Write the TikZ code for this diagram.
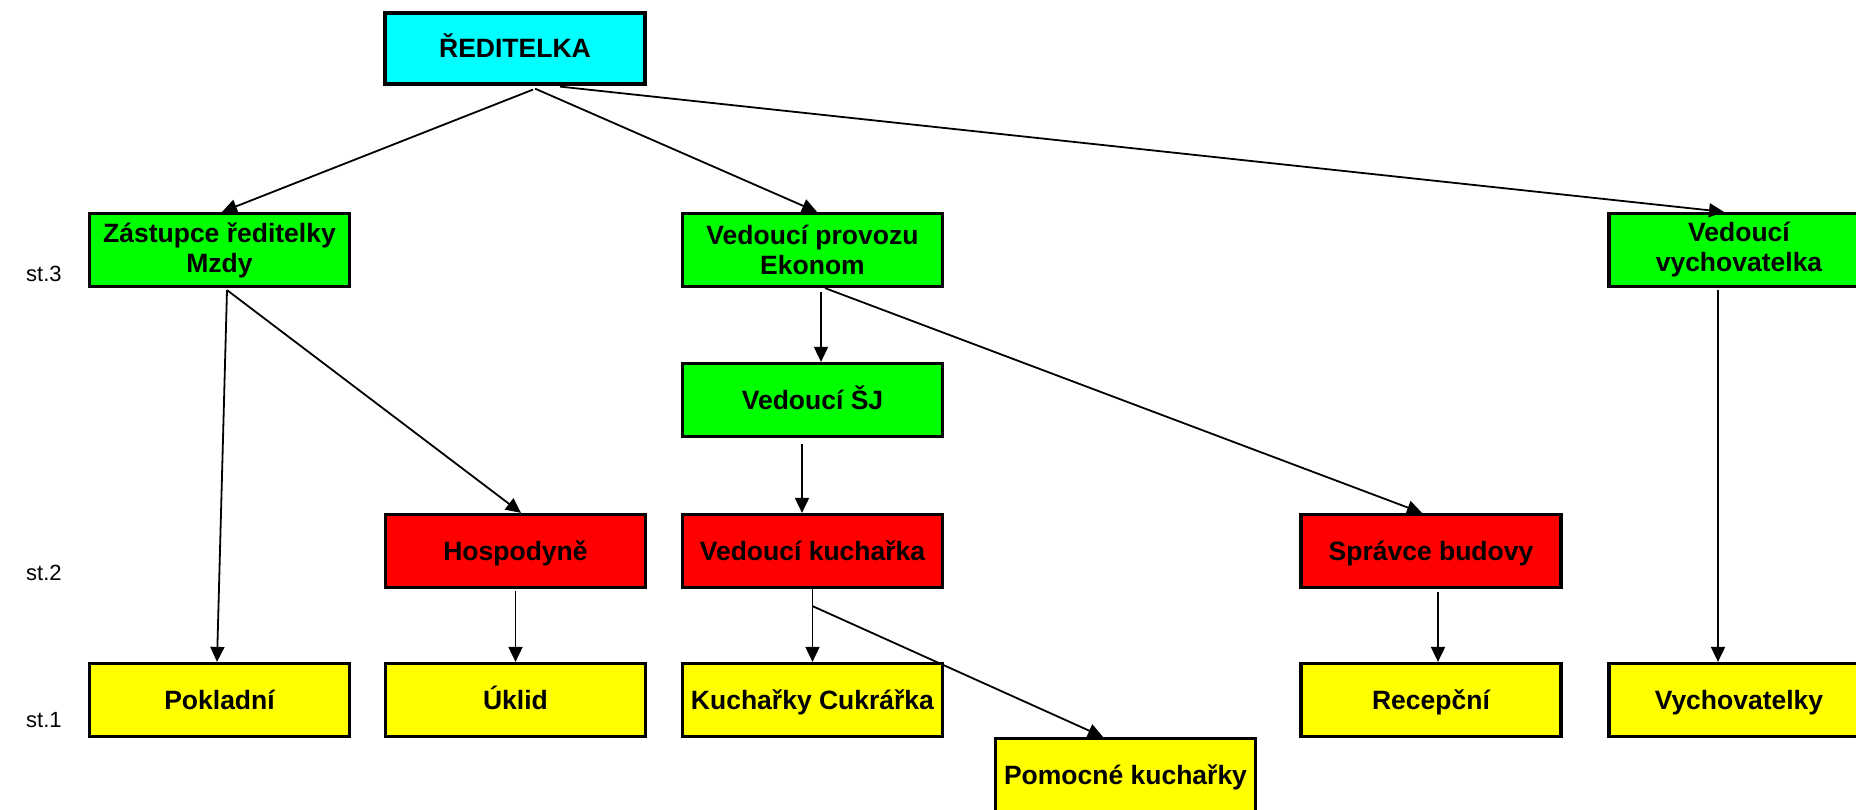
\documentclass[tikz,border=0pt]{standalone}
\usepackage{fontspec}
\setmainfont{Liberation Sans}
\usetikzlibrary{arrows.meta}
\definecolor{cy}{HTML}{00FFFF}
\definecolor{gr}{HTML}{00FF00}
\definecolor{rd}{HTML}{FF0000}
\definecolor{ye}{HTML}{FFFF00}
\newcommand\capc[1]{\smash{#1}\vphantom{A}}
\tikzset{
  box/.style={draw=black, line width=3.2pt, minimum width=260pt, minimum height=73pt,
    inner sep=0pt, align=center, font=\fontsize{26.5}{30}\selectfont\bfseries},
  arr/.style={line width=1.8pt, -{Triangle[length=15pt,width=14pt]}},
  lvl/.style={font=\fontsize{22}{26}\selectfont, anchor=west, inner sep=0pt}
}
\begin{document}
\begin{tikzpicture}[x=1pt,y=-1pt]
\clip (0,0) rectangle (1856,810);
\fill[white] (0,0) rectangle (1856,810);
% nodes
\node[box, fill=cy, minimum height=71pt] (top) at (515,48.5) {\capc{ŘEDITELKA}};
\node[box, fill=gr] (zast) at (219.5,250) {Zástupce ředitelky\\Mzdy};
\node[box, fill=gr] (vprov) at (812.5,250) {Vedoucí provozu\\Ekonom};
\node[box, fill=gr] (vvych) at (1739,250) {Vedoucí\\vychovatelka};
\node[box, fill=gr] (vsj) at (812.5,400) {\capc{Vedoucí ŠJ}};
\node[box, fill=rd] (hosp) at (515.5,551) {\capc{Hospodyně}};
\node[box, fill=rd] (vkuch) at (812.5,551) {\capc{Vedoucí kuchařka}};
\node[box, fill=rd] (sprav) at (1431,551) {\capc{Správce budovy}};
\node[box, fill=ye] (pokl) at (219.5,700) {\capc{Pokladní}};
\node[box, fill=ye] (uklid) at (515.5,700) {\capc{Úklid}};
\node[box, fill=ye] (kuch) at (812.5,700) {\capc{Kuchařky Cukrářka}};
\node[box, fill=ye] (recep) at (1431,700) {\capc{Recepční}};
\node[box, fill=ye] (vychs) at (1739,700) {\capc{Vychovatelky}};
\node[box, fill=ye] (pomoc) at (1125.5,775) {\capc{Pomocné kuchařky}};
% level labels
\node[lvl] (st3) at (26,274) {st.3};
\node[lvl] (st2) at (26,573) {st.2};
\node[lvl] (st1) at (26,720) {st.1};
% connectors
\draw[arr] ([xshift=18pt,yshift=-4pt]top.south) -- ([xshift=2.5pt]zast.north);
\draw[arr] ([xshift=20pt,yshift=-3pt]top.south) -- ([xshift=4.5pt]vprov.north);
\draw[arr] ([xshift=45pt,yshift=-1pt]top.south) -- ([xshift=-15pt]vvych.north);
\draw[arr] ([xshift=7.5pt,yshift=-2pt]zast.south) -- ([xshift=-2.5pt]pokl.north);
\draw[arr] ([xshift=7.5pt,yshift=-2pt]zast.south) -- ([xshift=5.5pt]hosp.north);
\draw[arr] ([xshift=8.5pt,yshift=-4pt]vprov.south) -- ([xshift=8.5pt]vsj.north);
\draw[arr] ([xshift=12.5pt]vprov.south) -- ([xshift=-9pt]sprav.north);
\draw[arr] ([xshift=-10.5pt,yshift=-6pt]vsj.south) -- ([xshift=-10.5pt]vkuch.north);
\draw[arr] (vkuch.south) -- (kuch.north);
\coordinate (split) at ([yshift=-17pt]vkuch.south);
\draw[arr] (split) -- ([xshift=-22.5pt]pomoc.north);
\draw[arr] ([yshift=-2pt]hosp.south) -- (uklid.north);
\draw[arr] ([xshift=7pt,yshift=-3pt]sprav.south) -- ([xshift=7pt]recep.north);
\draw[arr] ([xshift=-21pt,yshift=-2pt]vvych.south) -- ([xshift=-21pt]vychs.north);
\end{tikzpicture}
\end{document}
